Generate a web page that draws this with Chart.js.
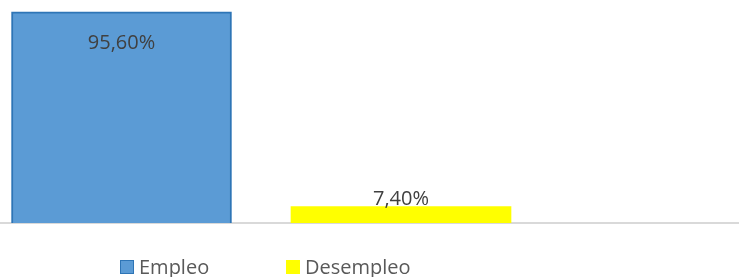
<!DOCTYPE html>
<html>
<head>
<meta charset="utf-8">
<script src="https://cdn.jsdelivr.net/npm/chart.js@4.4.1/dist/chart.umd.min.js"></script>
<style>
  body { margin: 0; background: #fff; overflow: hidden; }
  .wrap { position: relative; width: 739px; height: 277px; }
  #legend {
    position: absolute; left: 120px; top: 257px;
    display: flex; font-family: "Open Sans", sans-serif; font-size: 20px;
    line-height: 20px; color: #595959;
  }
  #legend .item { display: flex; align-items: center; width: 166px; white-space: nowrap; }
  #legend .box { width: 14px; height: 14px; margin-right: 5px; box-sizing: border-box; }
</style>
</head>
<body>
<div class="wrap">
  <canvas id="myChart" width="739" height="277"></canvas>
  <div id="legend"></div>
</div>
<script>
// datos
const categorias = ['Empleo', 'Desempleo'];
const valores = [95.6, 7.4];
const colores = ['#5b9bd5', '#ffff00'];
const bordes = ['#2e75b6', '#ffff00'];

// etiquetas sobre las barras
const etiquetas = {
    id: 'etiquetas',
    afterDatasetsDraw(chart) {
        const ctx = chart.ctx;
        ctx.save();
        ctx.font = '20px "Open Sans"';
        ctx.fillStyle = '#404040';
        ctx.textAlign = 'center';
        ctx.textBaseline = 'alphabetic';
        chart.data.datasets.forEach((ds, i) => {
            const bar = chart.getDatasetMeta(i).data[0];
            const txt = ds.data[0].y.toFixed(2).replace('.', ',') + '%';
            const alto = bar.base - bar.y;
            const y = alto > 40 ? bar.y + 37 : bar.y - 1.5;
            ctx.fillText(txt, bar.x, y);
        });
        ctx.restore();
    }
};

const ctx = document.getElementById('myChart');

const chart = new Chart(ctx, {
    type: 'bar',
    data: {
        datasets: categorias.map((c, i) => ({
            label: c,
            data: [{ x: i, y: valores[i] }],
            backgroundColor: colores[i],
            borderColor: bordes[i],
            borderWidth: i === 0 ? 2 : 0
        }))
    },
    options: {
        responsive: false,
        animation: false,
        grouped: false,
        barThickness: 220,
        layout: { padding: { top: 2, bottom: 54, left: 0, right: 0 } },
        plugins: {
            legend: { display: false },
            tooltip: { enabled: false }
        },
        scales: {
            x: {
                type: 'linear',
                offset: false,
                min: -0.4347,
                max: 2.2093,
                z: 1,
                ticks: { display: false },
                grid: { display: false, drawTicks: false },
                border: { display: true, color: '#d9d9d9', width: 2 }
            },
            y: {
                display: false,
                min: 0,
                max: 100
            }
        }
    },
    plugins: [etiquetas]
});

// leyenda
const leyenda = document.getElementById('legend');
chart.data.datasets.forEach(ds => {
    const item = document.createElement('div');
    item.className = 'item';
    const box = document.createElement('span');
    box.className = 'box';
    box.style.background = ds.backgroundColor;
    if (ds.borderWidth) box.style.border = '1.5px solid ' + ds.borderColor;
    item.appendChild(box);
    item.appendChild(document.createTextNode(ds.label));
    leyenda.appendChild(item);
});
</script>
</body>
</html>
